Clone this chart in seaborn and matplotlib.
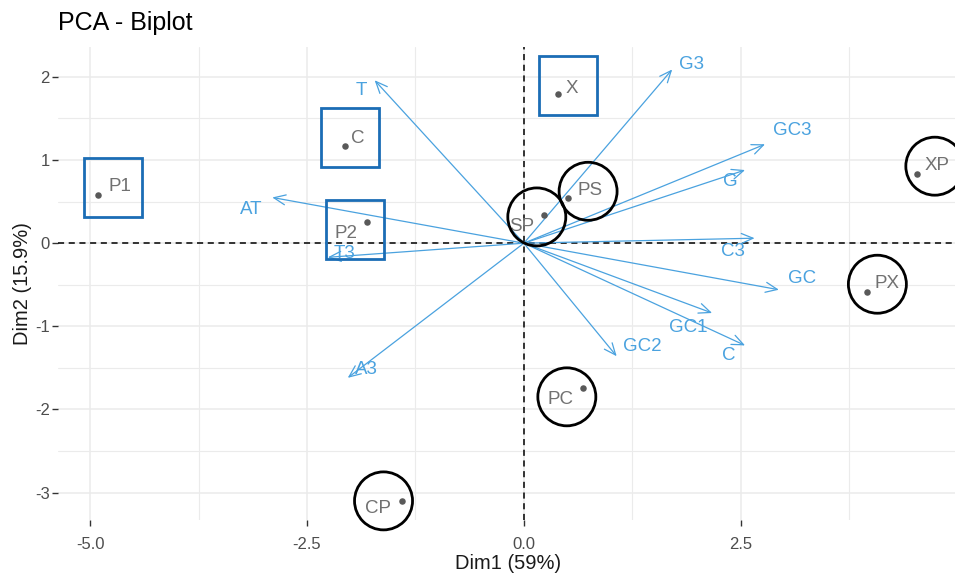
import matplotlib
matplotlib.use("Agg")
import numpy as np
import pandas as pd
import seaborn as sns
import matplotlib.pyplot as plt
from matplotlib import transforms as mtransforms
from matplotlib.patches import Rectangle, Circle
from matplotlib.ticker import MultipleLocator

# Individuals (scores on the first two principal components)
ind_names = ["P1", "C", "P2", "X", "SP", "PS", "XP", "PX", "PC", "CP"]
ind_dim1 = [-4.91, -2.06, -1.81, 0.39, 0.23, 0.51, 4.53, 3.96, 0.68, -1.41]
ind_dim2 = [0.58, 1.17, 0.25, 1.80, 0.34, 0.54, 0.83, -0.59, -1.74, -3.10]

# Variables (loadings drawn as arrows from the origin)
var_names = ["T", "AT", "T3", "A3", "G3", "GC3", "G", "C3", "GC", "GC1", "C", "GC2"]
var_dim1 = [-1.72, -2.90, -2.26, -2.03, 1.71, 2.78, 2.55, 2.66, 2.94, 2.17, 2.55, 1.07]
var_dim2 = [1.96, 0.55, -0.17, -1.62, 2.09, 1.19, 0.88, 0.06, -0.56, -0.84, -1.23, -1.36]

# Highlight groups
boxed = ["P1", "C", "P2", "X"]
circled = ["PS", "SP", "XP", "PX", "PC", "CP"]

# Label placement (pixel offsets, repel-style)
ind_label_off = {"P1": (22, 8), "C": (13, 7), "P2": (-21, -11), "X": (14, 5),
                 "SP": (-22, -12), "PS": (22, 8), "XP": (20, 9), "PX": (20, 9),
                 "PC": (-22, -12), "CP": (-24, -8)}
var_label_off = {"T": (-13, -10), "AT": (-21, -12), "T3": (17, 4), "A3": (19, 8),
                 "G3": (19, 5), "GC3": (27, 14), "G": (-15, -11), "C3": (-22, -13),
                 "GC": (23, 11), "GC1": (-24, -14), "C": (-16, -10), "GC2": (26, 10)}
box_off = {"P1": (15, 7.5), "C": (5, 8.5), "P2": (-11.5, -7.5), "X": (10, 8.5)}
circle_off = {"PS": (20, 7), "SP": (-7, -2), "XP": (18, 8), "PX": (10, 8),
              "PC": (-16, -9), "CP": (-18, 0)}

ind_df = pd.DataFrame({"name": ind_names, "Dim1": ind_dim1, "Dim2": ind_dim2})
var_df = pd.DataFrame({"name": var_names, "Dim1": var_dim1, "Dim2": var_dim2})

sns.set_theme(style="whitegrid")
plt.rcParams["font.family"] = ["Liberation Sans", "DejaVu Sans"]

ARROW_COL = "#4aa2df"
BOX_COL = "#1b6db5"
LABEL_COL = "#717171"
GRID_COL = "#ebebeb"

fig = plt.figure(figsize=(9.55, 5.76), dpi=100)
ax = fig.add_axes([58 / 955, 56 / 576, 897 / 955, 473 / 576])
ax.set_facecolor("white")
for sp in ax.spines.values():
    sp.set_visible(False)

ax.set_xlim(-5.37, 4.97)
ax.set_ylim(-3.33, 2.36)
ax.xaxis.set_major_locator(MultipleLocator(2.5))
ax.xaxis.set_minor_locator(MultipleLocator(1.25))
ax.yaxis.set_major_locator(MultipleLocator(1))
ax.yaxis.set_minor_locator(MultipleLocator(0.5))
ax.set_axisbelow(True)
ax.grid(which="major", color=GRID_COL, lw=1.1)
ax.grid(which="minor", color=GRID_COL, lw=0.8)
ax.tick_params(which="major", direction="out", length=4, width=1.0,
               color="#333333", labelcolor="#4d4d4d", labelsize=12,
               bottom=True, left=True)
ax.tick_params(axis="x", pad=8)
ax.tick_params(axis="y", pad=2)
ax.tick_params(which="minor", length=0)
ax.set_xticklabels([f"{t:.1f}" for t in ax.get_xticks()])
ax.set_yticklabels([f"{t:.0f}" for t in ax.get_yticks()])

# Reference lines through the origin
ax.axhline(0, color="black", ls=(0, (4, 3)), lw=1.1, zorder=1)
ax.axvline(0, color="black", ls=(0, (4, 3)), lw=1.1, zorder=1)

# Variable arrows and labels
for _, r in var_df.iterrows():
    ax.annotate("", xy=(r.Dim1, r.Dim2), xytext=(0, 0),
                arrowprops=dict(arrowstyle="->,head_length=0.7,head_width=0.3",
                                color=ARROW_COL, lw=0.9, shrinkA=0, shrinkB=0),
                zorder=2)
    dx, dy = var_label_off[r["name"]]
    ax.annotate(r["name"], xy=(r.Dim1, r.Dim2), xytext=(dx, dy),
                textcoords="offset pixels", ha="center", va="center",
                color=ARROW_COL, fontsize=13.5, zorder=3)

# Individuals
sns.scatterplot(data=ind_df, x="Dim1", y="Dim2", ax=ax, color="#595959",
                s=22, linewidth=0, zorder=4, legend=False)
for _, r in ind_df.iterrows():
    dx, dy = ind_label_off[r["name"]]
    ax.annotate(r["name"], xy=(r.Dim1, r.Dim2), xytext=(dx, dy),
                textcoords="offset pixels", ha="center", va="center",
                color=LABEL_COL, fontsize=13.5, zorder=4)


def pixel_frame(x, y, dx, dy):
    return (mtransforms.Affine2D().translate(dx, dy)
            + mtransforms.ScaledTranslation(x, y, ax.transData))


lookup = ind_df.set_index("name")
for name in boxed:
    x, y = lookup.loc[name, "Dim1"], lookup.loc[name, "Dim2"]
    dx, dy = box_off[name]
    ax.add_patch(Rectangle((-29, -29.5), 58, 59, fill=False, ec=BOX_COL, lw=2.0,
                           transform=pixel_frame(x, y, dx, dy), clip_on=False,
                           zorder=5))
for name in circled:
    x, y = lookup.loc[name, "Dim1"], lookup.loc[name, "Dim2"]
    dx, dy = circle_off[name]
    ax.add_patch(Circle((0, 0), 29, fill=False, ec="black", lw=2.0,
                        transform=pixel_frame(x, y, dx, dy), clip_on=False,
                        zorder=5))

ax.set_xlabel("Dim1 (59%)", fontsize=14.5, color="#1a1a1a")
ax.set_ylabel("Dim2 (15.9%)", fontsize=14.5, color="#1a1a1a")
ax.xaxis.set_label_coords(0.502, -0.091)
ax.xaxis.label.set_va("center")
ax.yaxis.set_label_coords(-0.040, 0.5)
ax.yaxis.label.set_va("center")

fig.text(58 / 955, 1 - 23 / 576, "PCA - Biplot", fontsize=18, ha="left",
         va="center", color="black")

fig.savefig("out.png", dpi=100, facecolor="white")
